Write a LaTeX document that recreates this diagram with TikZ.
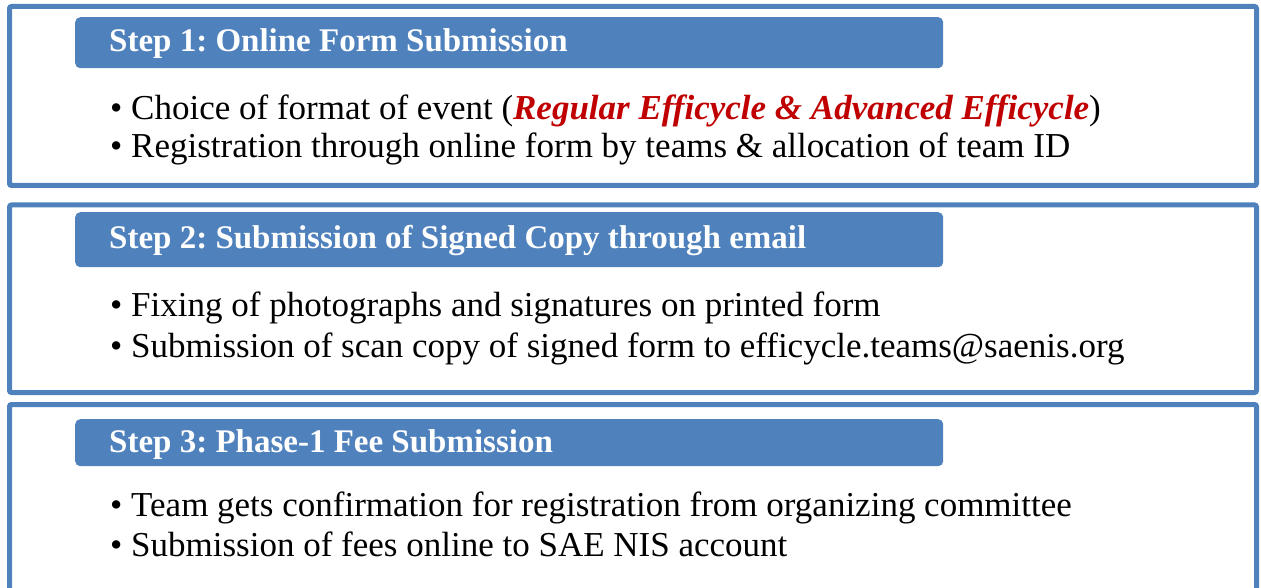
\documentclass[tikz,border=0pt]{standalone}
\usepackage{fontspec}
\setmainfont{Liberation Serif}
\frenchspacing
\definecolor{stepblue}{RGB}{79,129,189}
\definecolor{effred}{RGB}{192,0,0}

\begin{document}
\begin{tikzpicture}[x=1pt,y=-1pt,
  frame/.style={draw=stepblue,line width=5pt,rounded corners=2pt},
  headbar/.style={fill=stepblue,rounded corners=5pt,anchor=north west,inner sep=0pt,
    minimum width=868pt,minimum height=51pt},
  headtext/.style={anchor=base west,inner sep=0pt,text=white,
    font=\fontsize{33}{38}\selectfont\bfseries},
  item/.style={anchor=base west,inner sep=0pt,font=\fontsize{35}{40}\selectfont}]

\useasboundingbox (0,0) rectangle (1261,588);
\clip (0,0) rectangle (1261,588);

\draw[frame] (9.5,6.5) rectangle (1256.5,185.5);
\draw[frame] (9.5,205) rectangle (1256.5,392.5);
\draw[frame] (9.5,404.5) rectangle (1256.5,640);

\node[headbar] (bar1) at (75,17) {};
\node[headbar,minimum height=55pt] (bar2) at (75,212) {};
\node[headbar,minimum height=47pt] (bar3) at (75,419) {};

\node[headtext] (head1) at (109,52) {Step 1: Online Form Submission};
\node[headtext] (head2) at (109,248) {Step 2: Submission of Signed Copy through email};
\node[headtext] (head3) at (109,452) {Step 3: Phase-1 Fee Submission};

\node[item] (it11) at (110,120) {\textbullet\hspace{0.25em}Choice of format of event (\textcolor{effred}{\textbf{\textit{Regular Efficycle \& Advanced Efficycle}}})};
\node[item] (it12) at (110,158) {\textbullet\hspace{0.25em}Registration through online form by teams \& allocation of team ID};
\node[item] (it21) at (110,316) {\textbullet\hspace{0.25em}Fixing of photographs and signatures on printed form};
\node[item] (it22) at (110,357) {\textbullet\hspace{0.25em}Submission of scan copy of signed form to efficycle.teams@saenis.org};
\node[item] (it31) at (110,516) {\textbullet\hspace{0.25em}Team gets confirmation for registration from organizing committee};
\node[item] (it32) at (110,556) {\textbullet\hspace{0.25em}Submission of fees online to SAE NIS account};
\end{tikzpicture}
\end{document}
